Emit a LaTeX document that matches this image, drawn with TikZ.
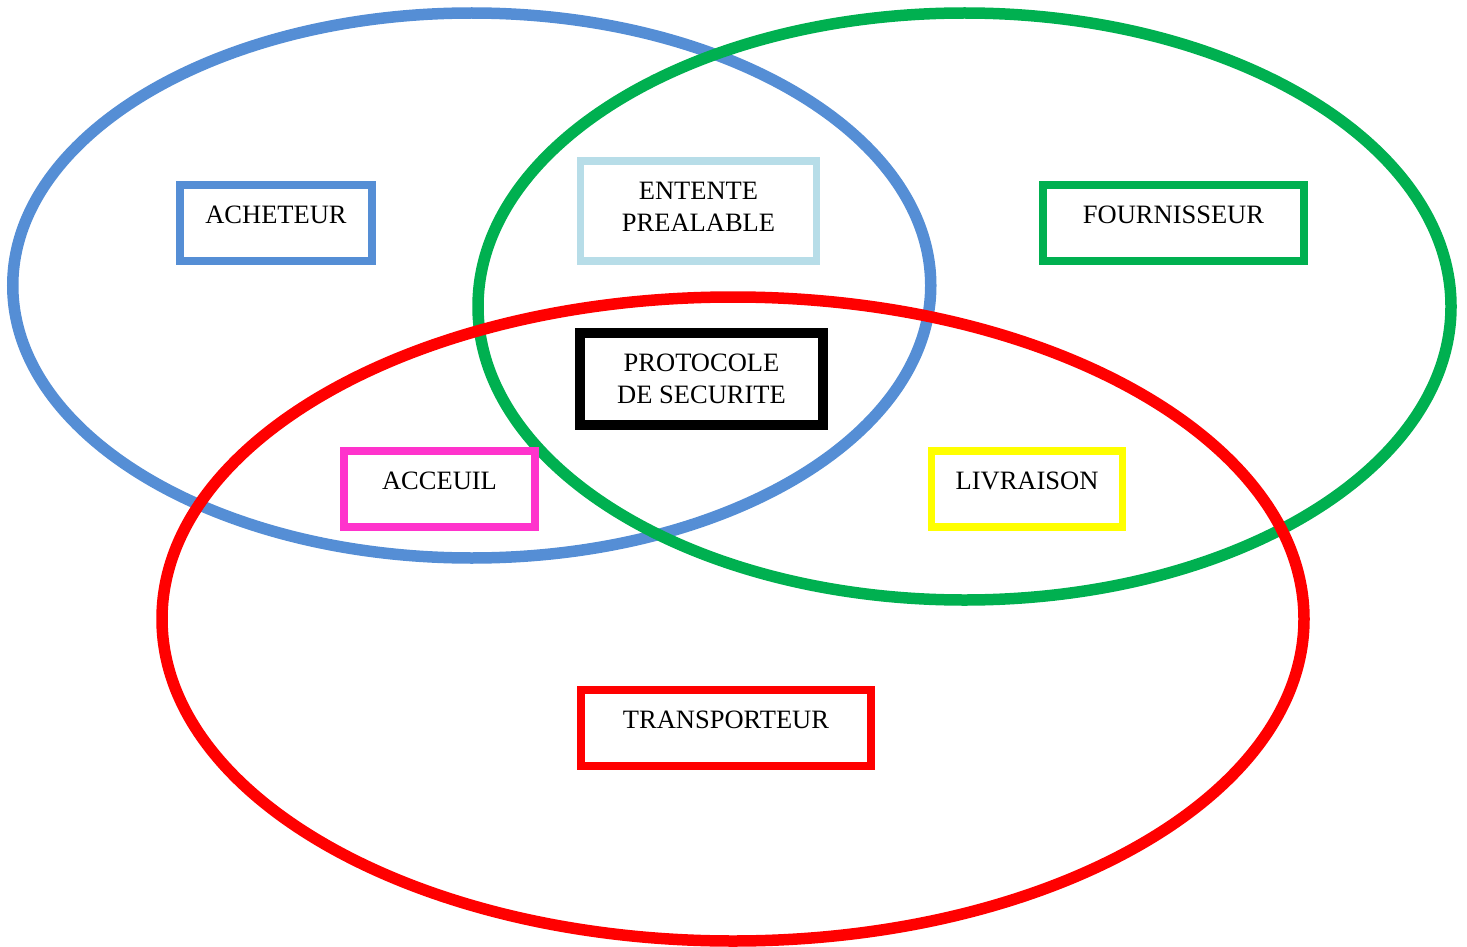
\documentclass[tikz,border=0pt]{standalone}
\usepackage{fontspec}
\setmainfont{Liberation Serif}
\usepackage{tikz}
\usetikzlibrary{positioning}
\definecolor{achblue}{RGB}{85,142,213}
\definecolor{fourgreen}{RGB}{0,176,80}
\definecolor{transred}{RGB}{255,0,0}
\definecolor{entblue}{RGB}{183,221,232}
\definecolor{accpink}{RGB}{255,51,204}
\definecolor{livyellow}{RGB}{255,255,0}
\newcommand{\rolefont}{\fontsize{26.5pt}{32pt}\selectfont}
\tikzset{
ring/.style={line width=11.5pt}, % the three big ellipses
role/.style={draw=#1, line width=7.5pt, inner sep=0pt, minimum width=192pt, minimum height=76pt, font=\rolefont},
oneline/.style={text height=17pt, text depth=17pt}, % text sits above the middle
twoline/.style={align=center},
}

\begin{document}
\begin{tikzpicture}[on grid, x=1pt, y=-1pt]
   \useasboundingbox (0,0) rectangle (1467,947);
   \draw[ring, achblue] (471.75,285.5) ellipse [x radius=459pt, y radius=272.5pt];
   \draw[ring, fourgreen] (964.5,306.5) ellipse [x radius=486.5pt, y radius=293.5pt];
   \draw[ring, transred] (733,619) ellipse [x radius=571pt, y radius=322pt];

   \node[role=achblue, oneline] (acheteur) at (276,223) {ACHETEUR};
   \node[role=fourgreen, oneline, minimum width=261pt] (fournisseur) [right=897.5pt of acheteur] {FOURNISSEUR};
   \node[role=black, twoline, line width=9.5pt, minimum width=243pt, minimum height=92pt] (protocole) at (701.5,379) {PROTOCOLE\\DE SECURITE};
   \node[role=entblue, twoline, text depth=8pt, minimum width=236pt, minimum height=100pt] (entente) [above left=168pt and 3pt of protocole] {ENTENTE\\PREALABLE};
   \node[role=livyellow, oneline, minimum width=191pt] (livraison) at (1027,489) {LIVRAISON};
   \node[role=accpink, oneline, minimum width=191pt] (acceuil) [left=587.5pt of livraison] {ACCEUIL};
   \node[role=transred, oneline, minimum width=290pt] (transporteur) [below right=349pt and 24.5pt of protocole] {TRANSPORTEUR};
\end{tikzpicture}
\end{document}
